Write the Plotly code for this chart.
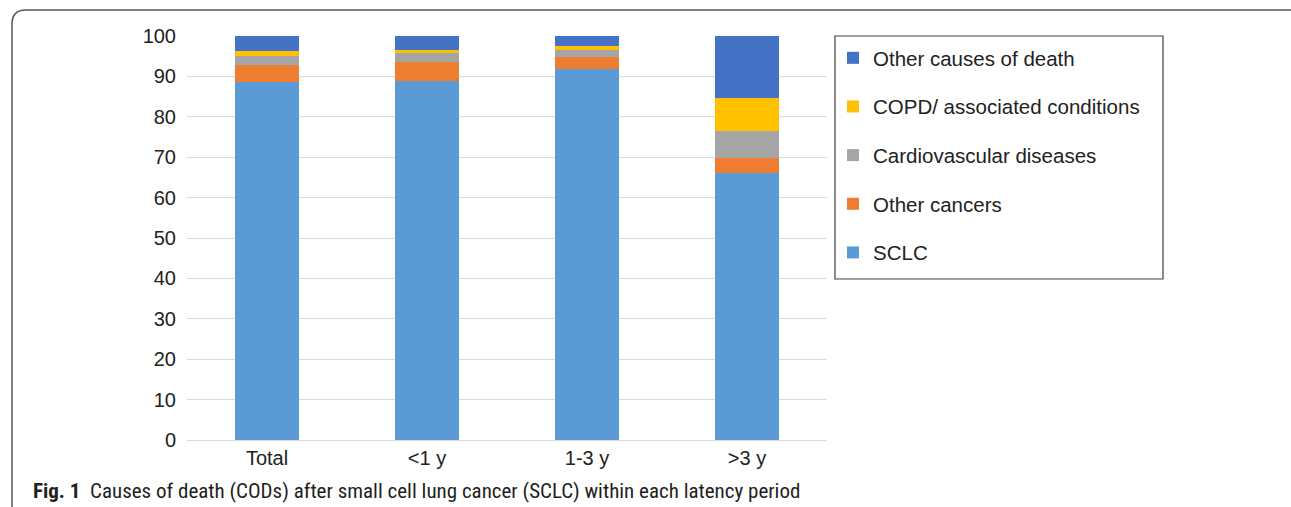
import plotly.graph_objects as go

# Latency periods on the x axis
periods = ["Total", "<1 y", "1-3 y", ">3 y"]

# Share of deaths (%) per cause, stacked bottom to top
sclc = [88.7, 88.9, 91.8, 66.0]
other_cancers = [4.1, 4.7, 3.1, 3.7]
cardiovascular = [2.2, 2.1, 1.6, 6.9]
copd = [1.3, 0.8, 1.0, 8.0]
other_causes = [3.7, 3.5, 2.5, 15.4]

y_ticks = [0, 10, 20, 30, 40, 50, 60, 70, 80, 90, 100]

series = [
    ("SCLC", sclc, "#5B9BD5"),
    ("Other cancers", other_cancers, "#ED7D31"),
    ("Cardiovascular diseases", cardiovascular, "#A5A5A5"),
    ("COPD/ associated conditions", copd, "#FFC000"),
    ("Other causes of death", other_causes, "#4472C4"),
]

W, H = 1291, 507
L, R, T, B = 187, 827, 36, 440  # plot area in pixels


def px(x):
    return (x - L) / (R - L)


def py(y):
    return (B - y) / (B - T)


fig = go.Figure()
n = len(series)
for i, (name, vals, color) in enumerate(series):
    fig.add_trace(go.Bar(
        x=periods, y=vals, name=name, legendgroup=name,
        legendrank=n - i,  # top of the stack listed first
        marker=dict(color=color, line=dict(width=0)),
    ))

font_main = "Liberation Sans, Arial, sans-serif"

fig.update_layout(
    width=W, height=H,
    barmode="stack", bargap=0.6,
    margin=dict(l=L, r=W - R, t=T, b=H - B, pad=0),
    paper_bgcolor="white", plot_bgcolor="white",
    font=dict(family=font_main, size=20, color="#222222"),
    xaxis=dict(showgrid=False, showline=False, ticks="", tickfont=dict(size=20),
               ticklabelstandoff=4),
    yaxis=dict(range=[0, 100], tickvals=y_ticks, showgrid=True, gridcolor="#D9D9D9",
               gridwidth=1, zeroline=True, zerolinecolor="#D9D9D9", zerolinewidth=1,
               showline=False, ticks="", tickfont=dict(size=20), ticklabelstandoff=10),
    legend=dict(
        x=px(833), y=py(38), xanchor="left", yanchor="top",
        traceorder="grouped", tracegroupgap=19,
        font=dict(size=20.5, color="#222222"), bgcolor="rgba(0,0,0,0)",
        borderwidth=0,
    ),
    showlegend=True,
)

# Legend frame
fig.add_shape(type="rect", xref="paper", yref="paper",
              x0=px(835), x1=px(1163), y0=py(279), y1=py(36),
              line=dict(color="#404040", width=1.2), fillcolor="rgba(0,0,0,0)")

# Outer rounded panel frame (right and bottom edges run past the page)
x0, x1, y0, y1, rr = 12, 1303, 10, 519, 14
path = (
    f"M {px(x0 + rr)},{py(y0)} L {px(x1 - rr)},{py(y0)} "
    f"Q {px(x1)},{py(y0)} {px(x1)},{py(y0 + rr)} L {px(x1)},{py(y1 - rr)} "
    f"Q {px(x1)},{py(y1)} {px(x1 - rr)},{py(y1)} L {px(x0 + rr)},{py(y1)} "
    f"Q {px(x0)},{py(y1)} {px(x0)},{py(y1 - rr)} L {px(x0)},{py(y0 + rr)} "
    f"Q {px(x0)},{py(y0)} {px(x0 + rr)},{py(y0)} Z"
)
fig.add_shape(type="path", xref="paper", yref="paper", path=path,
              line=dict(color="#555555", width=1.5), fillcolor="rgba(0,0,0,0)")

# Figure caption
fig.add_annotation(
    xref="paper", yref="paper", x=px(31), y=py(491), xanchor="left", yanchor="middle",
    showarrow=False,
    text="<b>Fig. 1</b>  Causes of death (CODs) after small cell lung cancer (SCLC) within each latency period",
    font=dict(family="Liberation Sans Narrow, Arial Narrow, Roboto Condensed, sans-serif",
              size=21, color="#231F20"),
)

fig.write_html("out.html")
